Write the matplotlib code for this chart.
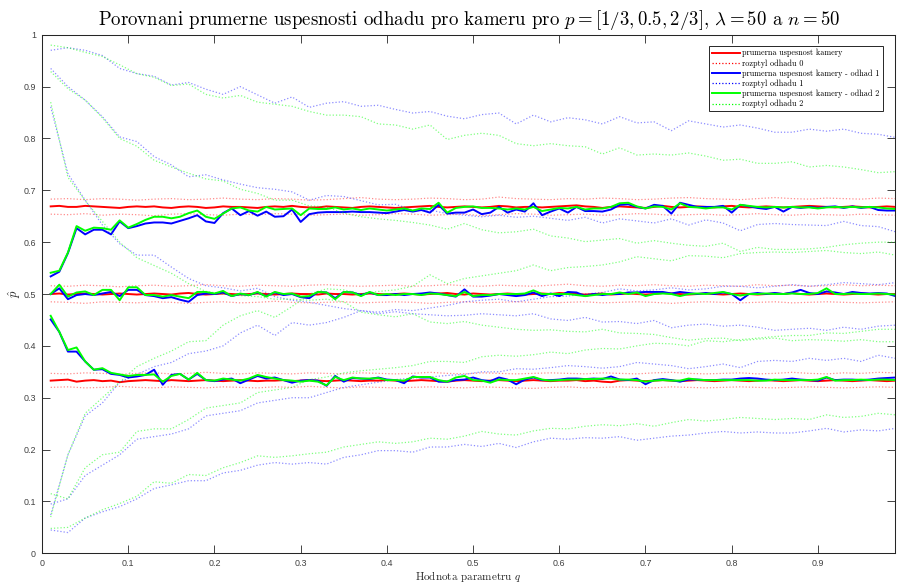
import numpy as np
import matplotlib
matplotlib.use("Agg")
import matplotlib.pyplot as plt

plt.rcParams['mathtext.fontset'] = 'cm'
plt.rcParams['axes.formatter.use_mathtext'] = True

# hodnoty parametru q (0.01 .. 0.99), rozptyly odectene po 0.02
q = np.round(np.arange(1, 100) * 0.01, 2)
q_var = q[::2]

# prumerna uspesnost kamery (cervena)
r_hi = [0.669, 0.670, 0.668, 0.668, 0.670, 0.669, 0.668, 0.667, 0.666, 0.668,
        0.669, 0.668, 0.669, 0.667, 0.666, 0.668, 0.669, 0.668, 0.666, 0.667,
        0.669, 0.668, 0.668, 0.667, 0.666, 0.668, 0.669, 0.668, 0.670, 0.668,
        0.667, 0.667, 0.669, 0.668, 0.667, 0.666, 0.668, 0.669, 0.668, 0.667,
        0.666, 0.667, 0.668, 0.669, 0.670, 0.668, 0.667, 0.668, 0.669, 0.668,
        0.667, 0.668, 0.670, 0.669, 0.667, 0.668, 0.668, 0.667, 0.668, 0.669,
        0.670, 0.671, 0.669, 0.668, 0.666, 0.668, 0.669, 0.668, 0.667, 0.666,
        0.668, 0.670, 0.668, 0.667, 0.668, 0.669, 0.668, 0.667, 0.669, 0.670,
        0.668, 0.667, 0.668, 0.669, 0.668, 0.667, 0.668, 0.669, 0.670, 0.669,
        0.668, 0.667, 0.668, 0.669, 0.668, 0.667, 0.668, 0.669, 0.668]
r_mid = [0.500, 0.501, 0.499, 0.500, 0.501, 0.500, 0.499, 0.500, 0.501, 0.500,
         0.499, 0.500, 0.501, 0.500, 0.499, 0.501, 0.502, 0.500, 0.499, 0.500,
         0.501, 0.500, 0.499, 0.500, 0.501, 0.500, 0.499, 0.500, 0.501, 0.500,
         0.500, 0.499, 0.501, 0.500, 0.500, 0.499, 0.500, 0.501, 0.500, 0.499,
         0.500, 0.501, 0.500, 0.499, 0.500, 0.501, 0.502, 0.500, 0.499, 0.501,
         0.500, 0.499, 0.500, 0.501, 0.500, 0.499, 0.500, 0.501, 0.500, 0.502,
         0.501, 0.500, 0.499, 0.500, 0.501, 0.499, 0.500, 0.501, 0.500, 0.499,
         0.500, 0.502, 0.501, 0.500, 0.499, 0.500, 0.501, 0.500, 0.499, 0.500,
         0.501, 0.500, 0.499, 0.500, 0.501, 0.500, 0.502, 0.500, 0.499, 0.500,
         0.501, 0.500, 0.499, 0.500, 0.501, 0.500, 0.499, 0.500, 0.500]
r_lo = [0.333, 0.334, 0.335, 0.331, 0.333, 0.334, 0.332, 0.333, 0.330, 0.332,
        0.333, 0.334, 0.333, 0.332, 0.334, 0.333, 0.332, 0.333, 0.334, 0.333,
        0.332, 0.333, 0.334, 0.333, 0.332, 0.333, 0.333, 0.334, 0.332, 0.333,
        0.334, 0.333, 0.332, 0.333, 0.334, 0.333, 0.332, 0.333, 0.333, 0.334,
        0.333, 0.332, 0.333, 0.334, 0.333, 0.332, 0.331, 0.333, 0.334, 0.333,
        0.332, 0.333, 0.334, 0.333, 0.332, 0.333, 0.334, 0.333, 0.332, 0.333,
        0.333, 0.334, 0.332, 0.333, 0.331, 0.330, 0.333, 0.334, 0.333, 0.332,
        0.333, 0.334, 0.333, 0.332, 0.333, 0.334, 0.333, 0.332, 0.333, 0.334,
        0.333, 0.332, 0.333, 0.334, 0.333, 0.332, 0.333, 0.334, 0.333, 0.332,
        0.333, 0.334, 0.333, 0.332, 0.333, 0.334, 0.333, 0.332, 0.333]

# rozptyl odhadu 0 (cervena teckovana)
r_hi_up = [0.683, 0.684, 0.682, 0.684, 0.683, 0.681, 0.683, 0.684, 0.682, 0.683,
           0.685, 0.683, 0.682, 0.684, 0.683, 0.681, 0.682, 0.684, 0.686, 0.683,
           0.682, 0.683, 0.685, 0.684, 0.682, 0.683, 0.687, 0.684, 0.683, 0.682,
           0.684, 0.683, 0.685, 0.684, 0.682, 0.683, 0.685, 0.686, 0.684, 0.683,
           0.682, 0.684, 0.686, 0.684, 0.683, 0.685, 0.684, 0.683, 0.685, 0.684]
r_hi_dn = [0.654, 0.653, 0.655, 0.652, 0.654, 0.653, 0.651, 0.654, 0.655, 0.653,
           0.652, 0.654, 0.653, 0.655, 0.654, 0.652, 0.653, 0.654, 0.652, 0.653,
           0.655, 0.654, 0.652, 0.653, 0.654, 0.651, 0.653, 0.655, 0.654, 0.652,
           0.653, 0.654, 0.652, 0.653, 0.655, 0.654, 0.652, 0.653, 0.654, 0.652,
           0.653, 0.655, 0.653, 0.652, 0.654, 0.653, 0.652, 0.654, 0.653, 0.652]
r_mid_up = [0.516, 0.515, 0.517, 0.516, 0.514, 0.516, 0.517, 0.515, 0.516, 0.518,
            0.516, 0.515, 0.517, 0.516, 0.515, 0.517, 0.518, 0.516, 0.515, 0.516,
            0.517, 0.515, 0.516, 0.518, 0.516, 0.515, 0.517, 0.516, 0.515, 0.517,
            0.519, 0.516, 0.515, 0.517, 0.516, 0.518, 0.516, 0.515, 0.517, 0.516,
            0.515, 0.518, 0.516, 0.517, 0.515, 0.516, 0.518, 0.516, 0.517, 0.516]
r_mid_dn = [0.485, 0.484, 0.482, 0.485, 0.484, 0.483, 0.485, 0.484, 0.482, 0.484,
            0.485, 0.483, 0.484, 0.486, 0.484, 0.483, 0.484, 0.485, 0.483, 0.484,
            0.485, 0.484, 0.482, 0.484, 0.485, 0.483, 0.484, 0.485, 0.484, 0.483,
            0.484, 0.485, 0.483, 0.484, 0.485, 0.484, 0.482, 0.484, 0.485, 0.484,
            0.483, 0.484, 0.485, 0.483, 0.484, 0.485, 0.484, 0.483, 0.484, 0.485]
r_lo_up = [0.347, 0.346, 0.348, 0.347, 0.345, 0.347, 0.348, 0.346, 0.347, 0.349,
           0.347, 0.346, 0.348, 0.347, 0.346, 0.348, 0.347, 0.346, 0.348, 0.347,
           0.346, 0.347, 0.349, 0.347, 0.346, 0.348, 0.347, 0.346, 0.347, 0.348,
           0.347, 0.346, 0.348, 0.347, 0.346, 0.348, 0.349, 0.347, 0.346, 0.347,
           0.348, 0.346, 0.347, 0.349, 0.347, 0.346, 0.348, 0.347, 0.349, 0.348]
r_lo_dn = [0.320, 0.321, 0.319, 0.320, 0.322, 0.320, 0.319, 0.321, 0.320, 0.319,
           0.321, 0.320, 0.319, 0.321, 0.320, 0.322, 0.320, 0.319, 0.321, 0.320,
           0.319, 0.320, 0.321, 0.320, 0.319, 0.321, 0.320, 0.319, 0.318, 0.320,
           0.321, 0.319, 0.320, 0.321, 0.320, 0.319, 0.321, 0.320, 0.319, 0.320,
           0.321, 0.320, 0.319, 0.320, 0.321, 0.320, 0.319, 0.320, 0.321, 0.320]

# odhad 1 (modra)
b_hi = [0.534, 0.543, 0.579, 0.627, 0.615, 0.624, 0.624, 0.615, 0.640, 0.627,
        0.631, 0.636, 0.638, 0.638, 0.636, 0.641, 0.646, 0.652, 0.640, 0.637,
        0.656, 0.665, 0.652, 0.660, 0.651, 0.659, 0.649, 0.650, 0.663, 0.639,
        0.654, 0.657, 0.658, 0.658, 0.658, 0.659, 0.658, 0.658, 0.657, 0.656,
        0.659, 0.662, 0.659, 0.662, 0.657, 0.672, 0.655, 0.657, 0.657, 0.663,
        0.654, 0.657, 0.668, 0.657, 0.663, 0.659, 0.675, 0.652, 0.659, 0.665,
        0.657, 0.668, 0.660, 0.660, 0.659, 0.663, 0.672, 0.673, 0.668, 0.665,
        0.672, 0.670, 0.655, 0.676, 0.672, 0.668, 0.668, 0.668, 0.670, 0.657,
        0.672, 0.669, 0.666, 0.664, 0.668, 0.659, 0.668, 0.666, 0.668, 0.666,
        0.668, 0.669, 0.666, 0.669, 0.666, 0.668, 0.662, 0.661, 0.661]
b_mid = [0.500, 0.511, 0.490, 0.498, 0.500, 0.498, 0.501, 0.504, 0.496, 0.508,
         0.508, 0.498, 0.496, 0.492, 0.494, 0.489, 0.485, 0.498, 0.501, 0.500,
         0.503, 0.496, 0.500, 0.498, 0.503, 0.496, 0.503, 0.498, 0.500, 0.494,
         0.492, 0.504, 0.503, 0.492, 0.504, 0.503, 0.498, 0.503, 0.498, 0.498,
         0.500, 0.498, 0.500, 0.501, 0.503, 0.501, 0.498, 0.495, 0.509, 0.495,
         0.495, 0.497, 0.500, 0.498, 0.496, 0.498, 0.503, 0.496, 0.501, 0.496,
         0.504, 0.503, 0.496, 0.500, 0.498, 0.500, 0.500, 0.503, 0.503, 0.504,
         0.504, 0.504, 0.501, 0.504, 0.502, 0.500, 0.502, 0.500, 0.503, 0.500,
         0.488, 0.500, 0.502, 0.500, 0.502, 0.500, 0.503, 0.508, 0.502, 0.500,
         0.505, 0.503, 0.500, 0.504, 0.502, 0.501, 0.502, 0.501, 0.496]
b_lo = [0.451, 0.427, 0.389, 0.389, 0.370, 0.354, 0.355, 0.346, 0.344, 0.339,
        0.341, 0.344, 0.354, 0.325, 0.344, 0.346, 0.335, 0.346, 0.334, 0.332,
        0.335, 0.337, 0.328, 0.335, 0.342, 0.337, 0.339, 0.334, 0.329, 0.333,
        0.334, 0.333, 0.323, 0.342, 0.331, 0.338, 0.337, 0.336, 0.339, 0.335,
        0.334, 0.328, 0.341, 0.339, 0.339, 0.331, 0.331, 0.334, 0.335, 0.339,
        0.334, 0.332, 0.339, 0.335, 0.326, 0.335, 0.339, 0.334, 0.334, 0.335,
        0.337, 0.337, 0.336, 0.337, 0.336, 0.341, 0.335, 0.334, 0.337, 0.326,
        0.334, 0.336, 0.334, 0.331, 0.335, 0.335, 0.334, 0.334, 0.335, 0.335,
        0.337, 0.338, 0.337, 0.335, 0.334, 0.335, 0.337, 0.335, 0.334, 0.333,
        0.339, 0.334, 0.335, 0.335, 0.334, 0.335, 0.337, 0.338, 0.339]

# rozptyl odhadu 1 (modra teckovana)
b_var = [
    [0.970, 0.975, 0.970, 0.960, 0.935, 0.925, 0.920, 0.903, 0.908, 0.895,
     0.885, 0.900, 0.884, 0.868, 0.880, 0.860, 0.868, 0.871, 0.862, 0.864,
     0.856, 0.849, 0.852, 0.843, 0.838, 0.846, 0.849, 0.828, 0.845, 0.832,
     0.840, 0.836, 0.828, 0.842, 0.830, 0.832, 0.815, 0.834, 0.828, 0.822,
     0.826, 0.820, 0.812, 0.812, 0.818, 0.814, 0.818, 0.810, 0.808, 0.802],
    [0.935, 0.900, 0.874, 0.842, 0.803, 0.794, 0.765, 0.749, 0.726, 0.730,
     0.720, 0.712, 0.705, 0.702, 0.697, 0.681, 0.690, 0.688, 0.680, 0.672,
     0.673, 0.662, 0.662, 0.655, 0.652, 0.649, 0.652, 0.648, 0.650, 0.646,
     0.642, 0.648, 0.637, 0.645, 0.641, 0.637, 0.645, 0.633, 0.643, 0.637,
     0.622, 0.634, 0.636, 0.634, 0.633, 0.632, 0.640, 0.632, 0.630, 0.620],
    [0.861, 0.732, 0.681, 0.633, 0.597, 0.575, 0.575, 0.552, 0.530, 0.516,
     0.512, 0.506, 0.511, 0.495, 0.488, 0.484, 0.478, 0.472, 0.468, 0.462,
     0.466, 0.462, 0.460, 0.458, 0.459, 0.462, 0.460, 0.458, 0.462, 0.452,
     0.449, 0.455, 0.446, 0.447, 0.443, 0.449, 0.435, 0.440, 0.442, 0.438,
     0.440, 0.436, 0.430, 0.432, 0.434, 0.430, 0.436, 0.432, 0.438, 0.440],
    [0.074, 0.190, 0.265, 0.290, 0.330, 0.345, 0.360, 0.368, 0.385, 0.390,
     0.400, 0.425, 0.440, 0.420, 0.445, 0.440, 0.445, 0.455, 0.468, 0.465,
     0.470, 0.468, 0.473, 0.478, 0.485, 0.488, 0.490, 0.485, 0.490, 0.495,
     0.496, 0.500, 0.503, 0.510, 0.506, 0.508, 0.512, 0.508, 0.510, 0.515,
     0.515, 0.512, 0.515, 0.518, 0.515, 0.518, 0.522, 0.520, 0.518, 0.522],
    [0.095, 0.105, 0.150, 0.170, 0.190, 0.220, 0.225, 0.230, 0.240, 0.265,
     0.270, 0.275, 0.290, 0.295, 0.300, 0.300, 0.310, 0.320, 0.325, 0.330,
     0.335, 0.338, 0.340, 0.343, 0.345, 0.350, 0.350, 0.356, 0.355, 0.358,
     0.362, 0.360, 0.357, 0.360, 0.368, 0.365, 0.362, 0.356, 0.360, 0.365,
     0.358, 0.370, 0.372, 0.370, 0.376, 0.372, 0.376, 0.370, 0.382, 0.376],
    [0.045, 0.040, 0.068, 0.080, 0.090, 0.105, 0.125, 0.132, 0.140, 0.140,
     0.155, 0.160, 0.170, 0.175, 0.172, 0.175, 0.172, 0.185, 0.190, 0.198,
     0.198, 0.195, 0.205, 0.205, 0.210, 0.206, 0.212, 0.204, 0.215, 0.222,
     0.220, 0.223, 0.222, 0.225, 0.218, 0.222, 0.226, 0.228, 0.232, 0.235,
     0.232, 0.234, 0.232, 0.232, 0.236, 0.241, 0.234, 0.238, 0.236, 0.241],
]

# odhad 2 (zelena)
g_hi = [0.541, 0.545, 0.580, 0.631, 0.622, 0.628, 0.627, 0.624, 0.642, 0.628,
        0.635, 0.643, 0.649, 0.649, 0.646, 0.649, 0.656, 0.661, 0.649, 0.645,
        0.655, 0.665, 0.667, 0.661, 0.659, 0.668, 0.663, 0.664, 0.665, 0.652,
        0.665, 0.664, 0.664, 0.667, 0.663, 0.665, 0.662, 0.665, 0.663, 0.661,
        0.663, 0.665, 0.661, 0.665, 0.664, 0.676, 0.657, 0.666, 0.668, 0.669,
        0.666, 0.666, 0.665, 0.663, 0.665, 0.663, 0.668, 0.660, 0.663, 0.666,
        0.665, 0.668, 0.663, 0.665, 0.665, 0.668, 0.675, 0.676, 0.669, 0.665,
        0.669, 0.668, 0.663, 0.675, 0.668, 0.667, 0.665, 0.667, 0.667, 0.663,
        0.672, 0.670, 0.668, 0.667, 0.668, 0.667, 0.668, 0.667, 0.667, 0.665,
        0.667, 0.668, 0.667, 0.668, 0.667, 0.668, 0.667, 0.665, 0.664]
g_mid = [0.500, 0.518, 0.495, 0.503, 0.505, 0.498, 0.508, 0.508, 0.488, 0.513,
         0.513, 0.498, 0.498, 0.495, 0.498, 0.495, 0.492, 0.504, 0.504, 0.501,
         0.506, 0.496, 0.501, 0.498, 0.504, 0.495, 0.504, 0.500, 0.501, 0.495,
         0.496, 0.504, 0.503, 0.490, 0.504, 0.503, 0.496, 0.504, 0.498, 0.500,
         0.498, 0.500, 0.500, 0.498, 0.501, 0.500, 0.498, 0.496, 0.504, 0.496,
         0.498, 0.498, 0.500, 0.500, 0.500, 0.501, 0.507, 0.500, 0.500, 0.500,
         0.500, 0.498, 0.496, 0.498, 0.500, 0.500, 0.503, 0.500, 0.503, 0.496,
         0.500, 0.501, 0.500, 0.496, 0.500, 0.501, 0.500, 0.502, 0.504, 0.500,
         0.497, 0.500, 0.500, 0.501, 0.500, 0.500, 0.501, 0.500, 0.500, 0.502,
         0.511, 0.500, 0.500, 0.501, 0.500, 0.500, 0.501, 0.500, 0.499]
g_lo = [0.458, 0.427, 0.392, 0.397, 0.370, 0.354, 0.357, 0.348, 0.345, 0.342,
        0.344, 0.344, 0.345, 0.331, 0.342, 0.346, 0.335, 0.348, 0.334, 0.333,
        0.337, 0.335, 0.333, 0.337, 0.344, 0.340, 0.337, 0.334, 0.333, 0.331,
        0.333, 0.331, 0.324, 0.340, 0.334, 0.339, 0.337, 0.337, 0.338, 0.334,
        0.334, 0.333, 0.340, 0.340, 0.340, 0.334, 0.331, 0.339, 0.342, 0.334,
        0.333, 0.329, 0.335, 0.334, 0.334, 0.337, 0.340, 0.335, 0.333, 0.334,
        0.335, 0.335, 0.336, 0.336, 0.337, 0.337, 0.335, 0.335, 0.334, 0.331,
        0.333, 0.334, 0.333, 0.333, 0.337, 0.335, 0.334, 0.334, 0.334, 0.334,
        0.334, 0.334, 0.333, 0.333, 0.335, 0.334, 0.334, 0.334, 0.334, 0.335,
        0.340, 0.333, 0.334, 0.334, 0.335, 0.334, 0.335, 0.335, 0.334]

# rozptyl odhadu 2 (zelena teckovana)
g_var = [
    [0.980, 0.975, 0.966, 0.958, 0.942, 0.925, 0.918, 0.902, 0.905, 0.885,
     0.878, 0.883, 0.870, 0.866, 0.862, 0.852, 0.845, 0.845, 0.842, 0.828,
     0.826, 0.818, 0.826, 0.798, 0.806, 0.810, 0.806, 0.790, 0.786, 0.790,
     0.786, 0.784, 0.770, 0.782, 0.768, 0.770, 0.768, 0.772, 0.766, 0.758,
     0.760, 0.752, 0.752, 0.755, 0.745, 0.748, 0.745, 0.740, 0.734, 0.736],
    [0.929, 0.896, 0.874, 0.840, 0.800, 0.785, 0.758, 0.745, 0.733, 0.722,
     0.718, 0.702, 0.694, 0.681, 0.681, 0.670, 0.668, 0.656, 0.649, 0.645,
     0.642, 0.638, 0.633, 0.625, 0.636, 0.624, 0.618, 0.620, 0.625, 0.612,
     0.608, 0.601, 0.604, 0.607, 0.598, 0.603, 0.598, 0.594, 0.592, 0.598,
     0.582, 0.590, 0.586, 0.586, 0.587, 0.590, 0.595, 0.598, 0.600, 0.600],
    [0.870, 0.725, 0.680, 0.640, 0.600, 0.570, 0.555, 0.540, 0.520, 0.505,
     0.500, 0.497, 0.495, 0.490, 0.490, 0.488, 0.490, 0.485, 0.465, 0.460,
     0.456, 0.462, 0.446, 0.443, 0.447, 0.440, 0.436, 0.432, 0.430, 0.431,
     0.428, 0.427, 0.432, 0.425, 0.424, 0.422, 0.416, 0.411, 0.414, 0.415,
     0.410, 0.413, 0.415, 0.410, 0.412, 0.411, 0.409, 0.412, 0.408, 0.408],
    [0.070, 0.190, 0.270, 0.300, 0.330, 0.360, 0.376, 0.390, 0.408, 0.410,
     0.440, 0.458, 0.468, 0.455, 0.476, 0.500, 0.510, 0.508, 0.500, 0.505,
     0.508, 0.515, 0.537, 0.520, 0.530, 0.535, 0.540, 0.545, 0.556, 0.545,
     0.551, 0.553, 0.556, 0.562, 0.572, 0.568, 0.564, 0.574, 0.573, 0.570,
     0.578, 0.580, 0.581, 0.580, 0.582, 0.584, 0.580, 0.578, 0.581, 0.575],
    [0.115, 0.105, 0.165, 0.190, 0.195, 0.235, 0.240, 0.240, 0.258, 0.280,
     0.285, 0.290, 0.310, 0.315, 0.320, 0.335, 0.340, 0.348, 0.352, 0.355,
     0.358, 0.362, 0.370, 0.370, 0.368, 0.379, 0.382, 0.380, 0.383, 0.388,
     0.385, 0.392, 0.395, 0.394, 0.400, 0.405, 0.404, 0.400, 0.410, 0.408,
     0.412, 0.415, 0.418, 0.420, 0.420, 0.425, 0.424, 0.428, 0.432, 0.432],
    [0.048, 0.050, 0.068, 0.084, 0.096, 0.110, 0.138, 0.135, 0.152, 0.150,
     0.165, 0.175, 0.188, 0.185, 0.188, 0.192, 0.195, 0.205, 0.210, 0.215,
     0.212, 0.215, 0.222, 0.220, 0.226, 0.235, 0.230, 0.228, 0.236, 0.241,
     0.240, 0.245, 0.248, 0.246, 0.250, 0.245, 0.252, 0.258, 0.255, 0.258,
     0.262, 0.260, 0.258, 0.260, 0.258, 0.267, 0.262, 0.264, 0.270, 0.267],
]

for s in (r_hi, r_mid, r_lo, b_hi, b_mid, b_lo, g_hi, g_mid, g_lo):
    assert len(s) == len(q), len(s)
for s in [r_hi_up, r_hi_dn, r_mid_up, r_mid_dn, r_lo_up, r_lo_dn] + b_var + g_var:
    assert len(s) == len(q_var), len(s)

fig = plt.figure(figsize=(8.97, 5.82), dpi=100)
ax = fig.add_axes([0.0469, 0.0493, 0.9514, 0.891])

lw_solid = 1.4
dot = (0, (1, 1.6))
lw_dot = 0.9

# cervena - kamera
ax.plot(q, r_hi, color='#ff0000', lw=lw_solid, label='prumerna uspesnost kamery')
ax.plot(q, r_mid, color='#ff0000', lw=lw_solid)
ax.plot(q, r_lo, color='#ff0000', lw=lw_solid)
for i, s in enumerate([r_hi_up, r_hi_dn, r_mid_up, r_mid_dn, r_lo_up, r_lo_dn]):
    ax.plot(q_var, s, color='#ff0000', lw=lw_dot, ls=dot, alpha=0.45,
            label='rozptyl odhadu 0' if i == 0 else None)

# modra - odhad 1
ax.plot(q, b_hi, color='#0000ff', lw=lw_solid, label='prumerna uspesnost kamery - odhad 1')
ax.plot(q, b_mid, color='#0000ff', lw=lw_solid)
ax.plot(q, b_lo, color='#0000ff', lw=lw_solid)
for i, s in enumerate(b_var):
    ax.plot(q_var, s, color='#0000ff', lw=lw_dot, ls=dot, alpha=0.45,
            label='rozptyl odhadu 1' if i == 0 else None)

# zelena - odhad 2
ax.plot(q, g_hi, color='#00ff00', lw=lw_solid, label='prumerna uspesnost kamery - odhad 2')
ax.plot(q, g_mid, color='#00ff00', lw=lw_solid)
ax.plot(q, g_lo, color='#00ff00', lw=lw_solid)
for i, s in enumerate(g_var):
    ax.plot(q_var, s, color='#00ff00', lw=lw_dot, ls=dot, alpha=0.5,
            label='rozptyl odhadu 2' if i == 0 else None)

ax.set_xlim(0, 0.99)
ax.set_ylim(0, 1)
ax.set_xticks(np.arange(0, 1.0, 0.1))
ax.set_yticks(np.arange(0, 1.01, 0.1))
ax.set_xticklabels(['0', '0.1', '0.2', '0.3', '0.4', '0.5', '0.6', '0.7', '0.8', '0.9'])
ax.set_yticklabels(['0', '0.1', '0.2', '0.3', '0.4', '0.5', '0.6', '0.7', '0.8', '0.9', '1'])

axcol = '#262626'
for sp in ax.spines.values():
    sp.set_color(axcol)
    sp.set_linewidth(0.75)
ax.tick_params(direction='in', length=5.5, width=0.6, color=axcol,
               top=True, right=True, labelsize=6.4, labelcolor='#404040')
ax.tick_params(axis='x', pad=3.8)
ax.tick_params(axis='y', pad=4.5)
for lab in ax.get_xticklabels() + ax.get_yticklabels():
    lab.set_family('Liberation Sans')

ax.set_title(r'Porovnani prumerne uspesnosti odhadu pro kameru pro $p = [1/3, 0.5, 2/3]$, $\lambda = 50$ a $n = 50$',
             fontsize=13.55, family='cmr10', pad=7)
ax.set_xlabel(r'Hodnota parametru $q$', fontsize=8, family='cmr10', color='#262626', va='center')
ax.xaxis.set_label_coords(0.5, -0.044)
ax.set_ylabel(r'$\hat{p}$', fontsize=9, color='#262626', va='center')
ax.yaxis.set_label_coords(-0.032, 0.5)

leg = ax.legend(loc='upper right', bbox_to_anchor=(0.985, 0.978), borderaxespad=0,
                prop={'family': 'cmr10', 'size': 5.9}, handlelength=3.4,
                labelspacing=0.22, handletextpad=0.3, borderpad=0.35,
                fancybox=False, framealpha=1, edgecolor='#262626')
leg.get_frame().set_linewidth(0.7)
for h in leg.get_lines():
    h.set_alpha(1)

fig.savefig('out.png', dpi=100)
